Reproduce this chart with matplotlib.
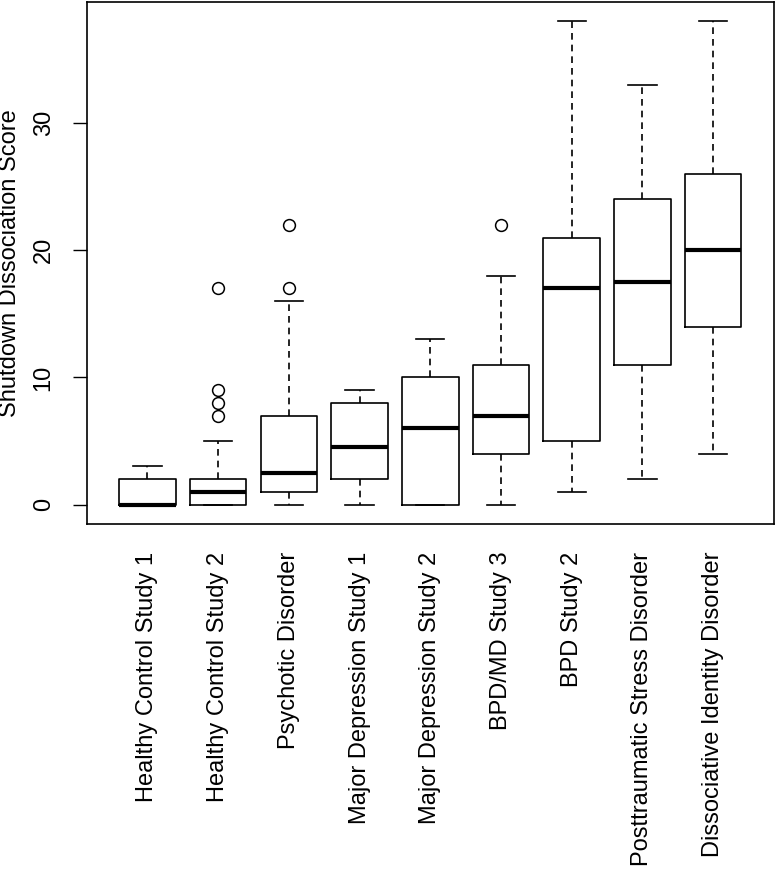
import matplotlib
matplotlib.use("Agg")
import matplotlib.pyplot as plt

plt.rcParams['font.family'] = ['Liberation Sans', 'DejaVu Sans']

groups = ["Healthy Control Study 1", "Healthy Control Study 2", "Psychotic Disorder",
          "Major Depression Study 1", "Major Depression Study 2", "BPD/MD Study 3",
          "BPD Study 2", "Posttraumatic Stress Disorder", "Dissociative Identity Disorder"]
whislo = [0, 0, 0, 0, 0, 0, 1, 2, 4]
q1 = [0, 0, 1, 2, 0, 4, 5, 11, 14]
med = [0, 1, 2.5, 4.5, 6, 7, 17, 17.5, 20]
q3 = [2, 2, 7, 8, 10, 11, 21, 24, 26]
whishi = [3, 5, 16, 9, 13, 18, 38, 33, 38]
fliers = [[], [7, 8, 9, 17], [17, 22], [], [], [22], [], [], []]

stats = []
for i in range(len(groups)):
    stats.append(dict(label=groups[i], whislo=whislo[i], q1=q1[i], med=med[i],
                      q3=q3[i], whishi=whishi[i], fliers=fliers[i]))

fig = plt.figure(figsize=(7.76, 8.73), dpi=100)
ax = fig.add_axes([0.1117, 0.3998, 0.8857, 0.5979])

ax.bxp(stats, positions=range(1, 10), widths=0.8, capwidths=0.4,
       boxprops=dict(color='black', lw=1.2),
       medianprops=dict(color='black', lw=3),
       whiskerprops=dict(color='black', lw=1.2, ls=(0, (4, 3))),
       capprops=dict(color='black', lw=1.2),
       flierprops=dict(marker='o', markersize=8.5, markerfacecolor='none',
                       markeredgecolor='black', markeredgewidth=1.1))

ax.set_xlim(0.14, 9.86)
ax.set_ylim(-1.52, 39.52)
ax.set_yticks([0, 10, 20, 30])
ax.set_yticklabels(['0', '10', '20', '30'], rotation=90, va='center')
ax.tick_params(axis='y', length=10, width=1, pad=13, labelsize=17)
ax.tick_params(axis='x', length=0, pad=20, labelsize=17)
ax.set_xticklabels(groups, rotation=90)
for s in ax.spines.values():
    s.set_linewidth(1.2)

ax.set_ylabel("Shutdown Dissociation Score", fontsize=17)
ax.yaxis.set_label_coords(-0.095, 0.5)

fig.savefig("out.png", dpi=100)
